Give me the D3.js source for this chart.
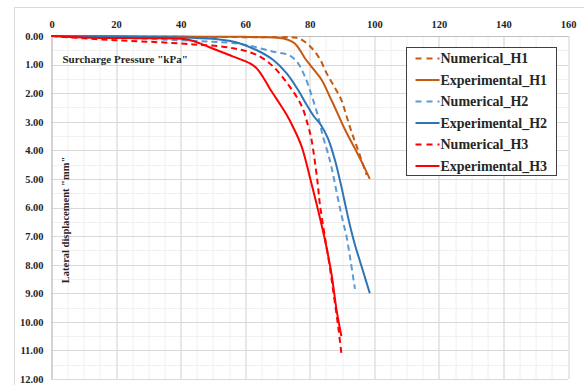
<!DOCTYPE html>
<html>
<head>
<meta charset="utf-8">
<script src="https://cdn.jsdelivr.net/npm/d3@7"></script>
<style>
body{margin:0;background:#fff;}
text{font-family:"Liberation Serif","Times New Roman",serif;font-weight:bold;fill:#262626;}
</style>
</head>
<body>
<div class="main"></div>
<script>
// values: [pressure kPa, displacement mm]
var numericalH1=[[0,0],[20,0.02],[40,0.03],[60,0.04],[70,0.04],[75,0.05],[77,0.1],[80,0.35],[83,0.78],[85.2,1.3],[87.5,1.75],[89.8,2.24],[91,2.65],[92.4,3.17],[93.7,3.6],[95,4.0],[96.3,4.43],[97.6,4.86]];
var experimentalH1=[[0,0],[20,0.01],[40,0.02],[60,0.03],[66,0.04],[70,0.06],[73,0.12],[75.4,0.26],[77,0.5],[78.5,0.78],[80.5,1.07],[83.7,1.54],[86.2,2.12],[88.8,2.75],[90.6,3.2],[92.5,3.62],[94.5,4.05],[96.5,4.5],[98.6,5.0]];
var numericalH2=[[0,0],[20,0.05],[40,0.15],[50,0.2],[58,0.27],[62.5,0.37],[68.7,0.55],[73.8,0.68],[76.4,0.96],[78.5,1.42],[80.5,2.05],[82.6,2.82],[84.1,3.52],[85.5,4.05],[86.7,4.57],[88.8,5.73],[90,6.35],[91.4,7.02],[92.7,7.9],[94,8.85]];
var experimentalH2=[[0,0],[20,0.02],[40,0.05],[50,0.1],[55,0.17],[58.4,0.26],[63.5,0.49],[68.7,0.84],[72.8,1.3],[76.4,1.89],[79,2.4],[81.2,2.8],[83.5,3.12],[85.7,3.6],[87.8,4.34],[89.8,5.27],[91.2,6.0],[92.6,6.7],[94,7.3],[96.3,8.15],[98.6,9.0]];
var numericalH3=[[0,0],[10,0.08],[20,0.15],[30,0.2],[40,0.26],[46,0.31],[52,0.36],[56.3,0.43],[60,0.52],[64.6,0.72],[68.7,1.07],[73.8,1.77],[77.5,2.45],[79.5,3.15],[80.5,3.6],[81.6,4.4],[82.5,5.2],[83.1,5.85],[84.5,6.9],[86.2,8.07],[87.5,9.1],[88.8,10.16],[89.8,11.1]];
var experimentalH3=[[0,0],[10,0.05],[20,0.07],[30,0.08],[40,0.1],[43,0.15],[46,0.26],[51.1,0.49],[56.3,0.72],[61.5,0.96],[63.7,1.15],[65.6,1.45],[67.5,1.82],[69.7,2.2],[72.8,2.75],[74.9,3.2],[77.5,3.87],[80,4.92],[81.5,5.6],[82.6,6.1],[84.7,7.13],[86.7,8.3],[88.3,9.58],[89.8,10.5]];

var seriesNames=['Numerical_H1','Experimental_H1','Numerical_H2','Experimental_H2','Numerical_H3','Experimental_H3'];
var seriesData=[numericalH1,experimentalH1,numericalH2,experimentalH2,numericalH3,experimentalH3];
var seriesColors=['#C55A11','#C55A11','#5B9BD5','#2E75B6','#FF0000','#FF0000'];
var seriesDashed=[true,false,true,false,true,false];

var xTicks=[0,20,40,60,80,100,120,140,160];
var yTicks=[0,1,2,3,4,5,6,7,8,9,10,11,12];
var xTitle='Surcharge Pressure "kPa"';
var yTitle='Lateral displacement "mm"';

var margin={top:36,right:16,left:51.5,bottom:6};
var width=584-margin.left-margin.right;
var height=385-margin.top-margin.bottom;

var svg=d3.select('.main').append('svg')
    .attr('width',584)
    .attr('height',385);

// chart frame
svg.append('rect')
    .attr('x',14.5).attr('y',7.5)
    .attr('width',580).attr('height',390)
    .attr('fill','none').attr('stroke','#d9d9d9');

var g=svg.append('g').attr('transform','translate('+margin.left+','+margin.top+')');

var x=d3.scaleLinear().domain([0,160]).range([0,width]);
var y=d3.scaleLinear().domain([0,12]).range([0,height]);

// minor grid
g.append('g').selectAll('line')
    .data(d3.range(0,161,5))
    .enter().append('line')
    .attr('x1',d=>Math.round(x(d))+0.5).attr('x2',d=>Math.round(x(d))+0.5)
    .attr('y1',0).attr('y2',height)
    .attr('stroke','#f0f0f0');
g.append('g').selectAll('line')
    .data(d3.range(0,12.01,0.5))
    .enter().append('line')
    .attr('y1',d=>Math.round(y(d))+0.5).attr('y2',d=>Math.round(y(d))+0.5)
    .attr('x1',0).attr('x2',width)
    .attr('stroke','#f0f0f0');

// major grid
g.append('g').selectAll('line')
    .data(xTicks)
    .enter().append('line')
    .attr('x1',d=>Math.round(x(d))+0.5).attr('x2',d=>Math.round(x(d))+0.5)
    .attr('y1',0).attr('y2',height)
    .attr('stroke','#d9d9d9');
g.append('g').selectAll('line')
    .data(yTicks)
    .enter().append('line')
    .attr('y1',d=>Math.round(y(d))+0.5).attr('y2',d=>Math.round(y(d))+0.5)
    .attr('x1',0).attr('x2',width)
    .attr('stroke','#d9d9d9');

// axes
var xAxis=d3.axisTop(x).tickValues(xTicks).tickSize(0).tickPadding(8).tickFormat(d3.format('d'));
var xAxisGroup=g.append('g').call(xAxis);
xAxisGroup.select('.domain').attr('stroke','#bfbfbf');
xAxisGroup.selectAll('text').style('font-size','10.5px').attr('fill','#262626');

var yAxis=d3.axisLeft(y).tickValues(yTicks).tickSize(0).tickPadding(8).tickFormat(d3.format('.2f'));
var yAxisGroup=g.append('g').call(yAxis);
yAxisGroup.select('.domain').attr('stroke','#bfbfbf');
yAxisGroup.selectAll('text').style('font-size','10.5px').attr('fill','#262626');

// axis titles
g.append('text')
    .attr('x',11).attr('y',27)
    .style('font-size','11px')
    .text(xTitle);
g.append('text')
    .attr('transform','translate(17,'+(220-margin.top)+') rotate(-90)')
    .attr('text-anchor','middle')
    .style('font-size','10.5px')
    .text(yTitle);

// curves
var line=d3.line()
    .x(d=>x(d[0]))
    .y(d=>y(d[1]))
    .curve(d3.curveCatmullRom.alpha(0.5));

g.selectAll('.series')
    .data(seriesData)
    .enter().append('path')
    .attr('class','series')
    .attr('d',line)
    .attr('fill','none')
    .attr('stroke',(d,i)=>seriesColors[i])
    .attr('stroke-width',2)
    .attr('stroke-dasharray',(d,i)=>seriesDashed[i]?'6,4':null);

// legend
var legend=svg.append('g').attr('transform','translate(406.5,47.5)');
legend.append('rect')
    .attr('width',150).attr('height',128)
    .attr('fill','#fff').attr('stroke','#404040');

var item=legend.selectAll('.legend-item')
    .data(seriesNames)
    .enter().append('g')
    .attr('class','legend-item')
    .attr('transform',(d,i)=>'translate(0,'+(11+i*21.5)+')');

item.append('line')
    .attr('x1',9).attr('x2',33)
    .attr('y1',0).attr('y2',0)
    .attr('stroke',(d,i)=>seriesColors[i])
    .attr('stroke-width',2)
    .attr('stroke-dasharray',(d,i)=>seriesDashed[i]?'6,5':null);

item.append('text')
    .attr('x',34).attr('y',0)
    .attr('dy','.35em')
    .style('font-size','14px')
    .text(d=>d);
</script>
</body>
</html>
